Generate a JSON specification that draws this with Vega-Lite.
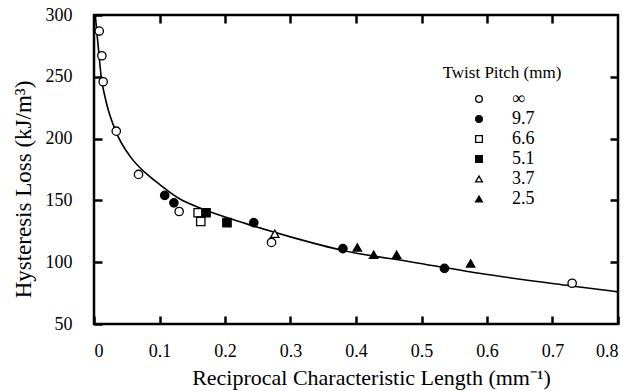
{
  "$schema": "https://vega.github.io/schema/vega-lite/v6.json",
  "width": 524,
  "height": 309,
  "autosize": {"type": "none"},
  "padding": {"left": 94, "top": 15, "right": 26, "bottom": 67},
  "background": "white",
  "config": {
    "view": {"stroke": "black", "strokeWidth": 2.5},
    "font": "Liberation Serif",
    "axis": {"grid": false, "domain": false, "ticks": true, "tickColor": "black", "tickWidth": 2.5, "tickSize": -8, "labelColor": "black", "titleColor": "black", "labelFont": "Liberation Serif", "titleFont": "Liberation Serif", "titleFontWeight": "normal", "labelFontSize": 18, "titleFontSize": 22}
  },
  "datasets": {
    "points": [
      {"x": 0.008, "y": 287, "pitch": "∞"},
      {"x": 0.012, "y": 267, "pitch": "∞"},
      {"x": 0.014, "y": 246, "pitch": "∞"},
      {"x": 0.034, "y": 206, "pitch": "∞"},
      {"x": 0.068, "y": 171, "pitch": "∞"},
      {"x": 0.130, "y": 141, "pitch": "∞"},
      {"x": 0.271, "y": 116, "pitch": "∞"},
      {"x": 0.730, "y": 83, "pitch": "∞"},
      {"x": 0.108, "y": 154, "pitch": "9.7"},
      {"x": 0.122, "y": 148, "pitch": "9.7"},
      {"x": 0.244, "y": 132, "pitch": "9.7"},
      {"x": 0.380, "y": 111, "pitch": "9.7"},
      {"x": 0.535, "y": 95, "pitch": "9.7"},
      {"x": 0.159, "y": 140, "pitch": "6.6"},
      {"x": 0.163, "y": 133, "pitch": "6.6"},
      {"x": 0.171, "y": 140, "pitch": "5.1"},
      {"x": 0.203, "y": 132, "pitch": "5.1"},
      {"x": 0.276, "y": 123, "pitch": "3.7"},
      {"x": 0.402, "y": 112, "pitch": "2.5"},
      {"x": 0.427, "y": 106, "pitch": "2.5"},
      {"x": 0.462, "y": 106, "pitch": "2.5"},
      {"x": 0.575, "y": 99, "pitch": "2.5"}
    ],
    "curve": [
      {"x": 0.002, "y": 300},
      {"x": 0.004, "y": 288},
      {"x": 0.006, "y": 277},
      {"x": 0.011, "y": 250},
      {"x": 0.018, "y": 231},
      {"x": 0.034, "y": 205},
      {"x": 0.056, "y": 185},
      {"x": 0.079, "y": 172},
      {"x": 0.10, "y": 163},
      {"x": 0.13, "y": 151.5},
      {"x": 0.166, "y": 143},
      {"x": 0.233, "y": 131},
      {"x": 0.30, "y": 120.5},
      {"x": 0.38, "y": 109.5},
      {"x": 0.487, "y": 100},
      {"x": 0.588, "y": 91},
      {"x": 0.726, "y": 81},
      {"x": 0.80, "y": 76}
    ]
  },
  "resolve": {"axis": {"x": "independent", "y": "independent"}},
  "layer": [
    {
      "data": {"name": "curve"},
      "mark": {"type": "line", "color": "black", "strokeWidth": 1.6, "interpolate": "monotone", "clip": true},
      "encoding": {
        "x": {"field": "x", "type": "quantitative", "scale": {"domain": [0, 0.8], "nice": false},
          "axis": {"values": [0, 0.1, 0.2, 0.3, 0.4, 0.5, 0.6, 0.7, 0.8], "format": "~g", "labelPadding": 26, "title": "Reciprocal Characteristic Length (mm⁻¹)", "titleX": 277, "titleY": 53, "titleBaseline": "middle"}},
        "y": {"field": "y", "type": "quantitative", "scale": {"domain": [50, 300], "nice": false, "zero": false},
          "axis": {"values": [50, 100, 150, 200, 250, 300], "labelPadding": 30, "title": "Hysteresis Loss (kJ/m³)", "titleFontSize": 23, "titleX": -71, "titleY": 174, "titleBaseline": "middle"}}
      }
    },
    {
      "data": {"name": "curve"},
      "mark": {"type": "line", "strokeOpacity": 0},
      "encoding": {
        "x": {"field": "x", "type": "quantitative", "axis": {"orient": "top", "values": [0.1, 0.2, 0.3, 0.4, 0.5, 0.6, 0.7], "labels": false, "title": null}},
        "y": {"field": "y", "type": "quantitative", "axis": {"orient": "right", "values": [100, 150, 200, 250], "labels": false, "title": null}}
      }
    },
    {
      "data": {"name": "points"},
      "mark": {"type": "point", "stroke": "black", "strokeWidth": 1.3, "size": 70, "opacity": 1, "filled": false},
      "encoding": {
        "x": {"field": "x", "type": "quantitative", "axis": null},
        "y": {"field": "y", "type": "quantitative", "axis": null},
        "shape": {"field": "pitch", "type": "nominal", "title": "Twist Pitch (mm)",
          "scale": {"domain": ["∞", "9.7", "6.6", "5.1", "3.7", "2.5"], "range": ["circle", "circle", "square", "square", "triangle-up", "triangle-up"]}},
        "fill": {"field": "pitch", "type": "nominal", "title": "Twist Pitch (mm)",
          "scale": {"domain": ["∞", "9.7", "6.6", "5.1", "3.7", "2.5"], "range": ["white", "black", "white", "black", "white", "black"]},
          "legend": {"orient": "none", "legendX": 349, "legendY": 50, "titleFontSize": 17, "titleFont": "Liberation Serif", "titleFontWeight": "normal", "titleColor": "black", "titleAnchor": "middle", "titlePadding": 8, "labelFontSize": 18, "labelFont": "Liberation Serif", "labelColor": "black", "labelOffset": 24, "symbolSize": 45, "symbolStrokeColor": "black", "symbolStrokeWidth": 1.3, "rowPadding": 2}}
      }
    }
  ]
}
